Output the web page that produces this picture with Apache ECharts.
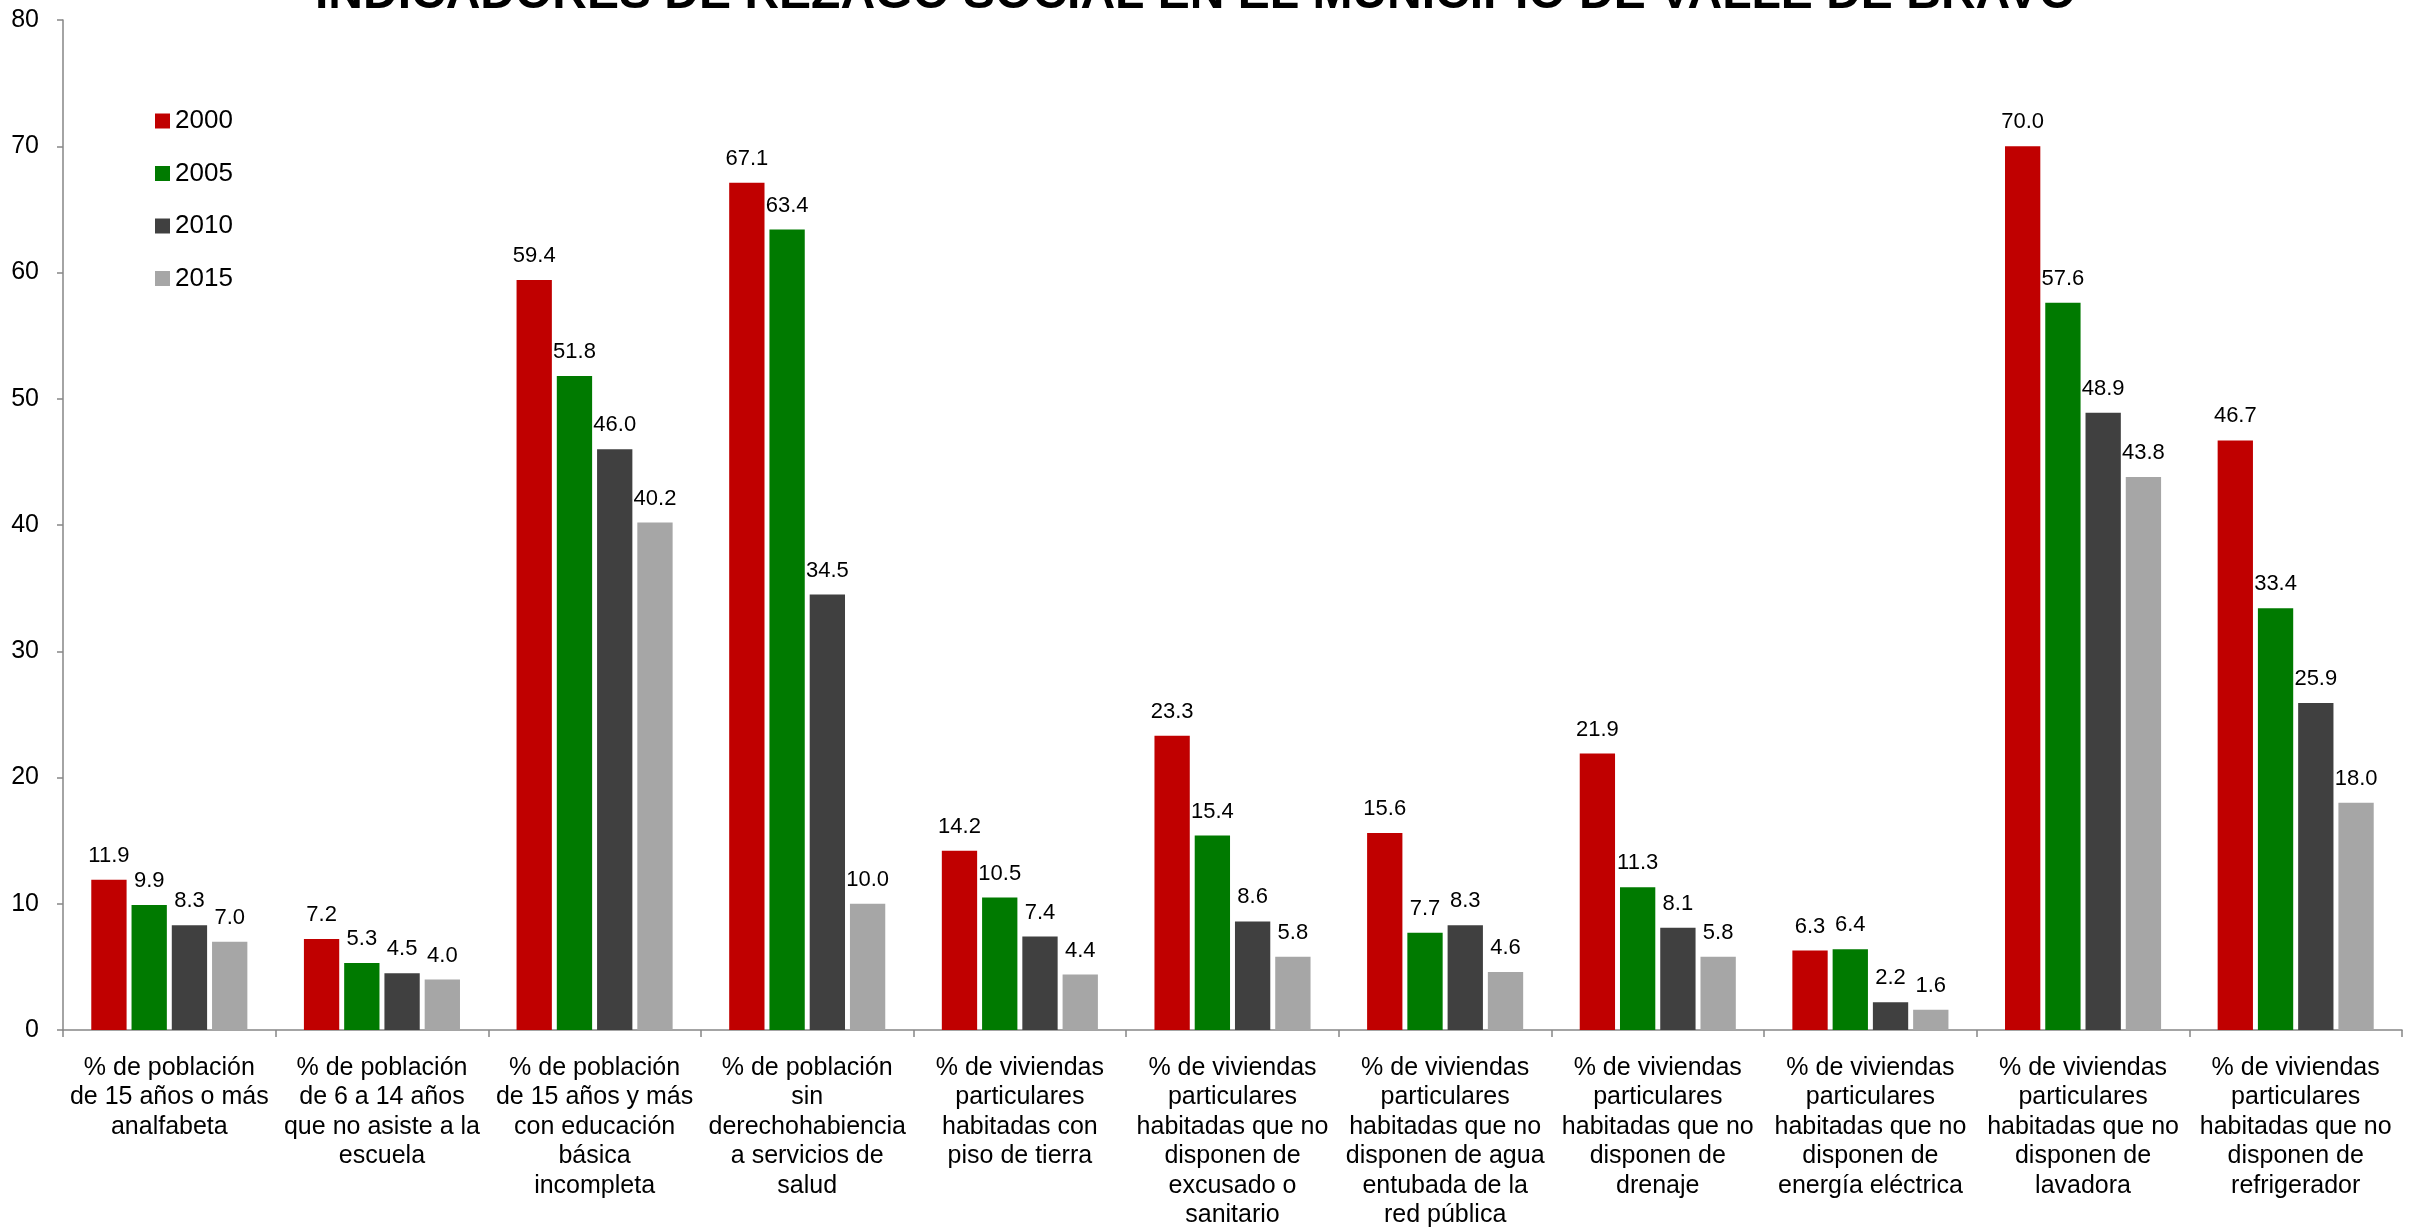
<!DOCTYPE html>
<html>
<head>
<meta charset="utf-8">
<script src="https://cdn.jsdelivr.net/npm/echarts@6/dist/echarts.min.js"></script>
<style>
html,body{margin:0;padding:0;background:#fff;}
#chart{width:2425px;height:1230px;}
</style>
</head>
<body>
<div id="chart"></div>
<script>
const titleText = "INDICADORES DE REZAGO SOCIAL EN EL MUNICIPIO DE VALLE DE BRAVO";
const categories = [
  "% de población\nde 15 años o más\nanalfabeta",
  "% de población\nde 6 a 14 años\nque no asiste a la\nescuela",
  "% de población\nde 15 años y más\ncon educación\nbásica\nincompleta",
  "% de población\nsin\nderechohabiencia\na servicios de\nsalud",
  "% de viviendas\nparticulares\nhabitadas con\npiso de tierra",
  "% de viviendas\nparticulares\nhabitadas que no\ndisponen de\nexcusado o\nsanitario",
  "% de viviendas\nparticulares\nhabitadas que no\ndisponen de agua\nentubada de la\nred pública",
  "% de viviendas\nparticulares\nhabitadas que no\ndisponen de\ndrenaje",
  "% de viviendas\nparticulares\nhabitadas que no\ndisponen de\nenergía eléctrica",
  "% de viviendas\nparticulares\nhabitadas que no\ndisponen de\nlavadora",
  "% de viviendas\nparticulares\nhabitadas que no\ndisponen de\nrefrigerador"
];
const seriesNames = ["2000", "2005", "2010", "2015"];
const values2000 = [11.9, 7.2, 59.4, 67.1, 14.2, 23.3, 15.6, 21.9, 6.3, 70.0, 46.7];
const values2005 = [9.9, 5.3, 51.8, 63.4, 10.5, 15.4, 7.7, 11.3, 6.4, 57.6, 33.4];
const values2010 = [8.3, 4.5, 46.0, 34.5, 7.4, 8.6, 8.3, 8.1, 2.2, 48.9, 25.9];
const values2015 = [7.0, 4.0, 40.2, 10.0, 4.4, 5.8, 4.6, 5.8, 1.6, 43.8, 18.0];
const colors = ["#C00000", "#007A00", "#404040", "#A6A6A6"];
const yTicks = [0, 10, 20, 30, 40, 50, 60, 70, 80];

const FONT = "'Liberation Sans', Arial, sans-serif";
const allValues = [values2000, values2005, values2010, values2015];

const chart = echarts.init(document.getElementById('chart'), null, {renderer: 'canvas'});
chart.setOption({
  animation: false,
  backgroundColor: '#ffffff',
  color: colors,
  title: {
    text: titleText,
    left: 310,
    top: -34,
    textStyle: {fontFamily: FONT, fontSize: 48, fontWeight: 'bold', color: '#000'}
  },
  legend: {
    orient: 'vertical',
    left: 150,
    top: 103,
    itemWidth: 15,
    itemHeight: 15,
    itemGap: 26.5,
    icon: 'rect',
    data: seriesNames,
    textStyle: {fontFamily: FONT, fontSize: 26, color: '#000'}
  },
  grid: {left: 63, right: 23, top: 20, bottom: 198, containLabel: false},
  xAxis: {
    type: 'category',
    data: categories,
    axisLine: {lineStyle: {color: '#868686', width: 1.5}},
    axisTick: {show: true, length: 7, lineStyle: {color: '#868686', width: 1.5}},
    axisLabel: {
      interval: 0,
      margin: 23,
      fontFamily: FONT,
      fontSize: 25,
      lineHeight: 29.5,
      color: '#000',
      align: 'center'
    }
  },
  yAxis: {
    type: 'value',
    min: yTicks[0],
    max: yTicks[yTicks.length - 1],
    interval: 10,
    splitLine: {show: false},
    axisLine: {show: true, lineStyle: {color: '#868686', width: 1.5}},
    axisTick: {show: true, length: 6, lineStyle: {color: '#868686', width: 1.5}},
    axisLabel: {margin: 24, fontFamily: FONT, fontSize: 25, color: '#000'}
  },
  series: seriesNames.map((name, i) => ({
    name: name,
    type: 'bar',
    data: allValues[i],
    barGap: '14%',
    barCategoryGap: '26.6%',
    itemStyle: {color: colors[i]},
    label: {
      show: true,
      position: 'top',
      distance: 13,
      fontFamily: FONT,
      fontSize: 22,
      color: '#000',
      formatter: p => p.value.toFixed(1)
    }
  }))
});
</script>
</body>
</html>
